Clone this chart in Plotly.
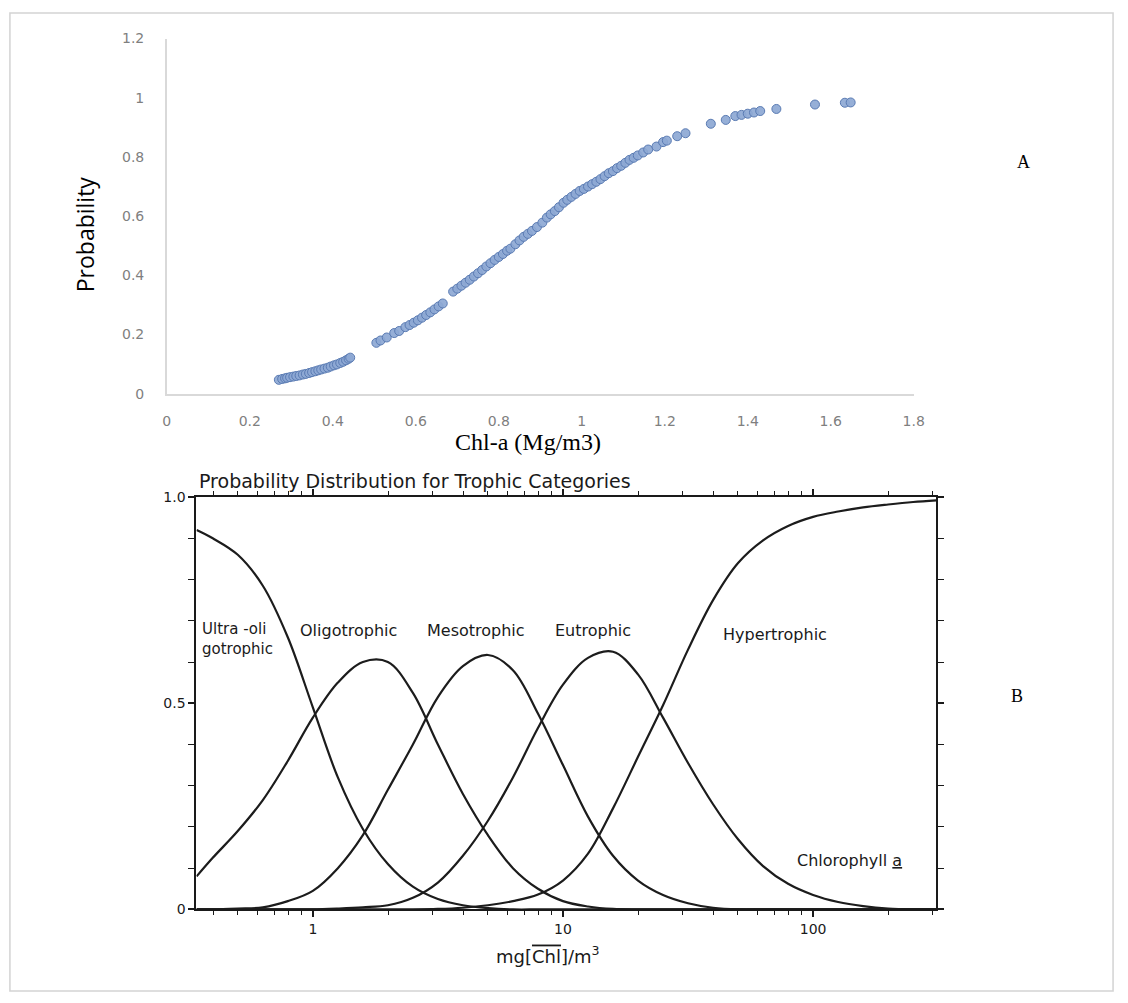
import plotly.graph_objects as go

# ---------------- Panel A data ----------------
chl_a = [0.270, 0.278, 0.285, 0.290, 0.297, 0.305, 0.312, 0.320, 0.328, 0.335,
         0.343, 0.350, 0.358, 0.365, 0.372, 0.380, 0.388, 0.395, 0.403, 0.410,
         0.418, 0.425, 0.432, 0.438, 0.442,
         0.505, 0.515, 0.530, 0.548, 0.560, 0.575, 0.585, 0.595, 0.605, 0.615,
         0.625, 0.635, 0.645, 0.655, 0.665,
         0.690, 0.700, 0.710, 0.720, 0.730, 0.740, 0.750, 0.760, 0.770, 0.780,
         0.790, 0.800, 0.810, 0.820, 0.828, 0.840, 0.850, 0.860, 0.870, 0.880,
         0.892, 0.905, 0.916, 0.925, 0.935, 0.945, 0.956, 0.965, 0.975, 0.985,
         0.995, 1.005, 1.015, 1.025, 1.035, 1.045, 1.055, 1.065, 1.075, 1.085,
         1.095, 1.105, 1.115, 1.125, 1.135, 1.148, 1.160, 1.180, 1.196, 1.205,
         1.230, 1.250, 1.311, 1.347, 1.370, 1.385, 1.400, 1.415, 1.430, 1.469,
         1.562, 1.634, 1.648]
probability = [0.047, 0.050, 0.052, 0.054, 0.056, 0.058, 0.060, 0.062, 0.065, 0.067,
               0.070, 0.073, 0.076, 0.079, 0.082, 0.085, 0.088, 0.092, 0.096, 0.099,
               0.104, 0.108, 0.113, 0.118, 0.122,
               0.172, 0.180, 0.190, 0.205, 0.212, 0.225, 0.232, 0.240, 0.248, 0.257,
               0.266, 0.275, 0.285, 0.295, 0.305,
               0.345, 0.355, 0.365, 0.375, 0.385, 0.396, 0.407, 0.418, 0.430, 0.441,
               0.452, 0.462, 0.472, 0.483, 0.490, 0.505, 0.518, 0.530, 0.540, 0.550,
               0.563, 0.578, 0.595, 0.606, 0.617, 0.630, 0.645, 0.655, 0.665, 0.675,
               0.685, 0.692, 0.700, 0.708, 0.716, 0.725, 0.735, 0.745, 0.752, 0.762,
               0.770, 0.780, 0.790, 0.797, 0.805, 0.815, 0.825, 0.835, 0.850, 0.855,
               0.870, 0.880, 0.912, 0.925, 0.938, 0.942, 0.946, 0.950, 0.955, 0.962,
               0.977, 0.983, 0.984]

xA_ticks = [0, 0.2, 0.4, 0.6, 0.8, 1, 1.2, 1.4, 1.6, 1.8]
xA_ticktext = ["0", "0.2", "0.4", "0.6", "0.8", "1", "1.2", "1.4", "1.6", "1.8"]
yA_ticks = [0, 0.2, 0.4, 0.6, 0.8, 1, 1.2]
yA_ticktext = ["0", "0.2", "0.4", "0.6", "0.8", "1", "1.2"]

# ---------------- Panel B data ----------------
chl_b = [0.343, 0.398, 0.501, 0.631, 0.794, 1.0, 1.259, 1.585, 1.995, 2.512,
         3.162, 3.981, 5.012, 6.31, 7.943, 10.0, 12.59, 15.85, 19.95, 25.12,
         31.62, 39.81, 50.12, 63.1, 79.43, 100.0, 125.9, 158.5, 199.5, 251.2, 311.0]

ultra = [0.92, 0.90, 0.86, 0.785, 0.66, 0.49, 0.32, 0.195, 0.11, 0.055,
         0.025, 0.01, 0.003, 0.0, 0.0, 0.0, 0.0, 0.0, 0.0, 0.0,
         0.0, 0.0, 0.0, 0.0, 0.0, 0.0, 0.0, 0.0, 0.0, 0.0, 0.0]
oligo = [0.08, 0.125, 0.19, 0.265, 0.36, 0.465, 0.55, 0.60, 0.60, 0.525,
         0.40, 0.28, 0.18, 0.10, 0.05, 0.02, 0.007, 0.001, 0.0, 0.0,
         0.0, 0.0, 0.0, 0.0, 0.0, 0.0, 0.0, 0.0, 0.0, 0.0, 0.0]
meso = [0.0, 0.0, 0.002, 0.005, 0.02, 0.045, 0.10, 0.18, 0.29, 0.40,
        0.515, 0.59, 0.617, 0.58, 0.475, 0.35, 0.225, 0.13, 0.07, 0.035,
        0.015, 0.004, 0.0, 0.0, 0.0, 0.0, 0.0, 0.0, 0.0, 0.0, 0.0]
eutro = [0.0, 0.0, 0.0, 0.0, 0.0, 0.0, 0.002, 0.005, 0.01, 0.028,
         0.065, 0.13, 0.215, 0.32, 0.44, 0.545, 0.61, 0.625, 0.57, 0.465,
         0.355, 0.255, 0.17, 0.105, 0.062, 0.035, 0.018, 0.008, 0.002, 0.0, 0.0]
hyper = [0.0, 0.0, 0.0, 0.0, 0.0, 0.0, 0.0, 0.0, 0.0, 0.0,
         0.001, 0.004, 0.01, 0.02, 0.036, 0.07, 0.135, 0.245, 0.37, 0.495,
         0.63, 0.75, 0.84, 0.895, 0.93, 0.952, 0.965, 0.975, 0.982, 0.988, 0.992]

xB_ticks = [1, 10, 100]
xB_ticktext = ["1", "10", "100"]
xB_minor = [0.4, 0.5, 0.6, 0.7, 0.8, 0.9, 2, 3, 4, 5, 6, 7, 8, 9,
            20, 30, 40, 50, 60, 70, 80, 90, 200, 300]
yB_ticks = [0, 0.5, 1.0]
yB_ticktext = ["0", "0.5", "1.0"]

curve_labels = ["Ultra -oli<br>gotrophic", "Oligotrophic", "Mesotrophic", "Eutrophic",
                "Hypertrophic", "Chlorophyll <u>a</u>"]

# ---------------- figure ----------------
W, H = 1128, 1003


def px(x):
    return x / W


def py(y):
    return 1 - y / H


fig = go.Figure()

fig.add_trace(go.Scatter(
    x=chl_a, y=probability, mode="markers", xaxis="x", yaxis="y",
    marker=dict(size=9, color="rgba(141,168,212,0.92)",
                line=dict(color="#5a7bb3", width=1)),
    showlegend=False, hoverinfo="x+y"))

line_style = dict(color="#1c1c1c", width=2.2, shape="spline", smoothing=1.0)
for ys in [ultra, oligo, meso, eutro, hyper]:
    fig.add_trace(go.Scatter(x=chl_b, y=ys, mode="lines", xaxis="x2", yaxis="y2",
                             line=line_style, showlegend=False, cliponaxis=True))

gray_font = dict(family="DejaVu Sans", size=14, color="#7f7f7f")
b_font = dict(family="DejaVu Sans", size=14, color="#1a1a1a")

fig.update_layout(
    width=W, height=H, autosize=False,
    margin=dict(l=0, r=0, t=0, b=0),
    paper_bgcolor="white", plot_bgcolor="white",
    xaxis=dict(domain=[px(165), px(922)], range=[0, 1.8], anchor="y",
               tickvals=xA_ticks, ticktext=xA_ticktext, showgrid=False,
               zeroline=False, showline=True, linecolor="#d9d9d9", linewidth=1.5,
               ticks="", tickfont=gray_font, ticklabelstandoff=14),
    yaxis=dict(domain=[py(392), py(31)], range=[0, 1.2], anchor="x",
               tickvals=yA_ticks, ticktext=yA_ticktext, showgrid=False,
               zeroline=False, showline=True, linecolor="#d9d9d9", linewidth=1.5,
               ticks="", tickfont=gray_font, ticklabelstandoff=18),
    xaxis2=dict(domain=[px(195), px(945)], type="log", range=[-0.4655, 2.4931],
                anchor="y2", tickvals=xB_ticks, ticktext=xB_ticktext,
                showgrid=False, zeroline=False, showline=True, mirror="ticks",
                linecolor="#1a1a1a", linewidth=2, ticks="outside", ticklen=6,
                tickwidth=1.5, tickcolor="#1a1a1a", tickfont=b_font,
                minor=dict(tickvals=xB_minor, ticks="outside", ticklen=4,
                           tickwidth=1.2, tickcolor="#1a1a1a", showgrid=False)),
    yaxis2=dict(domain=[py(916), py(497)], range=[0, 1.0], anchor="x2",
                tickvals=yB_ticks, ticktext=yB_ticktext, showgrid=False,
                zeroline=False, showline=True, mirror="ticks",
                linecolor="#1a1a1a", linewidth=2, ticks="outside", ticklen=6,
                tickwidth=1.5, tickcolor="#1a1a1a", tickfont=b_font,
                minor=dict(dtick=0.1, ticks="outside", ticklen=6, tickwidth=1.2,
                           tickcolor="#1a1a1a", showgrid=False)),
)

ann = []


def add_text(text, x, y, font, xanchor="center", yanchor="middle", angle=0, align="center"):
    ann.append(dict(text=text, x=px(x), y=py(y), xref="paper", yref="paper",
                    showarrow=False, font=font, xanchor=xanchor, align=align,
                    yanchor=yanchor, textangle=angle))


add_text("Probability", 82, 230, dict(family="Open Sans", size=23, color="#000"), angle=-90)
add_text("Chl-a (Mg/m3)", 531, 441, dict(family="Liberation Serif", size=24, color="#000"))
add_text("A", 1033, 157, dict(family="Liberation Serif", size=18, color="#000"))
add_text("B", 1027, 699, dict(family="Liberation Serif", size=18, color="#000"))
add_text("Probability Distribution for Trophic Categories", 196, 481,
         dict(family="DejaVu Sans", size=19, color="#1a1a1a"), xanchor="left")

lbl_font = dict(family="DejaVu Sans", size=16, color="#1a1a1a")
add_text(curve_labels[0], 199, 641, dict(family="DejaVu Sans", size=15, color="#1a1a1a"),
         xanchor="left", align="left")
add_text(curve_labels[1], 349, 633, lbl_font)
add_text(curve_labels[2], 478, 633, lbl_font)
add_text(curve_labels[3], 597, 633, lbl_font)
add_text(curve_labels[4], 781, 637, lbl_font)
add_text(curve_labels[5], 857, 866, lbl_font)
add_text("mg[<span style='text-decoration:overline'>Chl</span>]/m<sup>3</sup>", 551, 962,
         dict(family="DejaVu Sans", size=18, color="#1a1a1a"))

fig.update_layout(annotations=ann)

fig.add_shape(type="rect", xref="paper", yref="paper",
              x0=px(6), x1=px(1124), y0=py(999), y1=py(5),
              line=dict(color="#d3d3d3", width=1.5), fillcolor="rgba(0,0,0,0)")

fig.write_html("out.html", config={"displayModeBar": False},
               post_script="document.body.style.margin='0px';")
